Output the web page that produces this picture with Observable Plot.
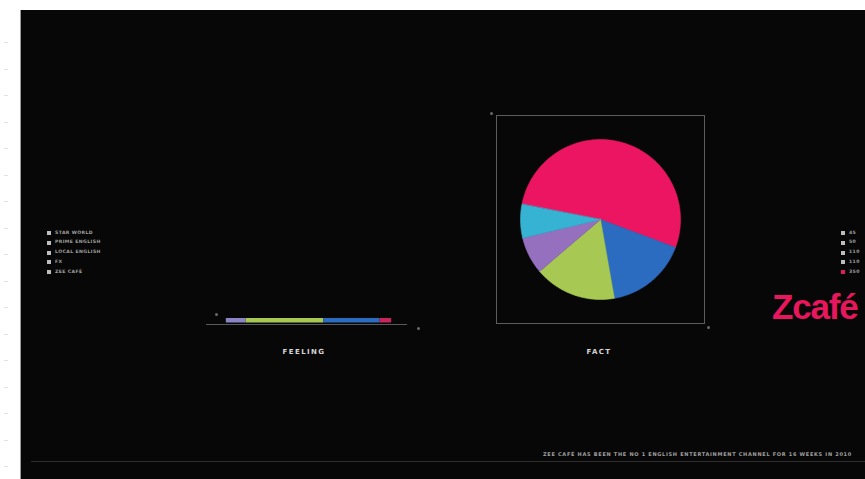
<!DOCTYPE html>
<html>
<head>
<meta charset="utf-8">
<script src="https://cdn.jsdelivr.net/npm/d3@7"></script>
<script src="https://cdn.jsdelivr.net/npm/@observablehq/plot@0.6"></script>
<style>
  html, body { margin: 0; padding: 0; background: #ffffff; }
  body { width: 865px; height: 479px; position: relative; overflow: hidden; font-family: "DejaVu Sans", sans-serif; }
  #board { position: absolute; left: 20px; top: 10px; width: 845px; height: 469px; background: #070707; overflow: hidden; border-left: 1px solid #9a9a9a; box-sizing: border-box; }
  .legend { position: absolute; font-size: 4.6px; font-weight: bold; color: #a0a0a0; letter-spacing: 0.4px; line-height: 1; }
  .legend .row { position: absolute; white-space: nowrap; }
  .legend .sw { position: absolute; width: 4px; height: 4px; left: 0; top: -2px; }
  .legend .tx { position: absolute; left: 8px; top: -2.5px; }
  .label { position: absolute; font-size: 7px; font-weight: bold; color: #d6d6d6; letter-spacing: 1.4px; transform: translateX(-50%); white-space: nowrap; }
  .cdot { position: absolute; width: 3px; height: 3px; border-radius: 50%; background: #6a6a6a; }
  #logo { position: absolute; left: 751px; top: 279px; font-family: "Liberation Sans", sans-serif; font-weight: bold; font-size: 35px; color: #e8175d; letter-spacing: -1.2px; line-height: 1; }
  #caption { position: absolute; left: 522px; top: 441px; font-size: 5px; font-weight: bold; color: #a0a0a0; letter-spacing: 0.7px; white-space: nowrap; }
  #baseline { position: absolute; left: 10px; top: 451px; width: 840px; height: 1px; background: #2e2e2e; }
  .tick { position: absolute; left: 4px; width: 4px; height: 1px; background: #e2e2e2; }
</style>
</head>
<body>
<div id="ticks"></div>
<div id="board"></div>
<script>
// ---- data ----
const channels = ["STAR WORLD", "PRIME ENGLISH", "LOCAL ENGLISH", "FX", "ZEE CAFÉ"];
const channelColors = ["#36b2d2", "#9470bf", "#a7c953", "#2b6cc1", "#ec1562"];
// FACT pie; drawn clockwise in this order
const factOrder = ["ZEE CAFÉ", "FX", "LOCAL ENGLISH", "PRIME ENGLISH", "STAR WORLD"];
const factValues = [350, 110, 110, 50, 45];
const factLabels = ["45", "50", "110", "110", "350"];
// FEELING bar (stacked, percent of bar length)
const feelingOrder = ["PRIME ENGLISH", "LOCAL ENGLISH", "FX", "ZEE CAFÉ"];
const feelingValues = [12, 47, 34, 7];
const feelingColors = ["#8a86c6", "#a7c953", "#2b6cc1", "#c8265a"];
const titles = { feeling: "FEELING", fact: "FACT" };
const captionText = "ZEE CAFÉ HAS BEEN THE NO 1 ENGLISH ENTERTAINMENT CHANNEL FOR 16 WEEKS IN 2010";
const brand = "Zcafé";

const board = document.getElementById("board");
const OX = 20, OY = 10; // board offset in the page
function place(el, x, y) { el.style.left = (x - OX) + "px"; el.style.top = (y - OY) + "px"; board.appendChild(el); return el; }

// faint marks in the white margin
const ticks = document.getElementById("ticks");
for (let i = 0; i < 17; i++) { const t = document.createElement("div"); t.className = "tick"; t.style.top = (42 + i * 26.5) + "px"; ticks.appendChild(t); }

// ---- left legend ----
{
  const lg = document.createElement("div"); lg.className = "legend";
  channels.forEach((c, i) => {
    const r = document.createElement("div"); r.className = "row"; r.style.top = (i * 9.8) + "px";
    r.innerHTML = `<div class="sw" style="background:#bdbdbd"></div><div class="tx">${c}</div>`;
    lg.appendChild(r);
  });
  place(lg, 46, 233);
}
// ---- right legend ----
{
  const lg = document.createElement("div"); lg.className = "legend";
  factLabels.forEach((v, i) => {
    const r = document.createElement("div"); r.className = "row"; r.style.top = (i * 9.8) + "px";
    const col = i === factLabels.length - 1 ? "#e8175d" : "#bdbdbd";
    r.innerHTML = `<div class="sw" style="background:${col}"></div><div class="tx">${v}</div>`;
    lg.appendChild(r);
  });
  place(lg, 840, 233);
}

// ---- FEELING bar ----
{
  const data = feelingOrder.map((n, i) => ({ name: n, value: feelingValues[i] }));
  const p = Plot.plot({
    width: 220, height: 30,
    marginLeft: 10, marginRight: 10, marginTop: 12, marginBottom: 11,
    style: { background: "transparent", overflow: "visible" },
    x: { domain: [-12, 109], axis: null },
    color: { domain: feelingOrder, range: feelingColors },
    marks: [
      Plot.frame({ anchor: "bottom", stroke: "#5a5a5a", strokeWidth: 1 }),
      Plot.barX(data, Plot.stackX({ x: "value", fill: "name", insetTop: 1, insetBottom: 1.5, order: null }))
    ]
  });
  p.style.position = "absolute";
  place(p, 195, 305);
  const d1 = document.createElement("div"); d1.className = "cdot"; place(d1, 214, 313);
  const d2 = document.createElement("div"); d2.className = "cdot"; place(d2, 416, 327);
  const lb = document.createElement("div"); lb.className = "label"; lb.textContent = titles.feeling; place(lb, 303, 348);
}

// ---- FACT pie ----
{
  const total = d3.sum(factValues);
  const startDeg = -79;
  const pts = [];
  let acc = startDeg;
  factOrder.forEach((n, i) => {
    const span = factValues[i] / total * 360;
    const a0 = acc, a1 = acc + span;
    pts.push({ name: n, x: 0, y: 0 });
    const steps = Math.max(2, Math.ceil(span));
    for (let k = 0; k <= steps; k++) {
      const a = (a0 + (a1 - a0) * k / steps) * Math.PI / 180;
      pts.push({ name: n, x: Math.sin(a), y: Math.cos(a) });
    }
    acc = a1;
  });
  const colorFor = Object.fromEntries(channels.map((c, i) => [c, channelColors[i]]));
  const p = Plot.plot({
    width: 216, height: 216,
    margin: 4,
    style: { background: "transparent", overflow: "visible" },
    x: { domain: [-1.3, 1.3], axis: null },
    y: { domain: [-1.3, 1.3], axis: null },
    color: { domain: factOrder, range: factOrder.map(n => colorFor[n]) },
    marks: [
      Plot.frame({ stroke: "#5c5c5c", strokeWidth: 1 }),
      Plot.line(pts, { x: "x", y: "y", z: "name", fill: "name", stroke: "name", strokeWidth: 0.6, curve: "linear-closed" })
    ]
  });
  p.style.position = "absolute";
  place(p, 491, 111);
  const d1 = document.createElement("div"); d1.className = "cdot"; place(d1, 489, 112);
  const d2 = document.createElement("div"); d2.className = "cdot"; place(d2, 706, 326);
  const lb = document.createElement("div"); lb.className = "label"; lb.textContent = titles.fact; place(lb, 598, 348);
}

// ---- logo, caption, baseline ----
{
  const lg = document.createElement("div"); lg.id = "logo"; lg.textContent = brand; board.appendChild(lg);
  const cp = document.createElement("div"); cp.id = "caption"; cp.textContent = captionText; board.appendChild(cp);
  const bl = document.createElement("div"); bl.id = "baseline"; board.appendChild(bl);
}
</script>
</body>
</html>
